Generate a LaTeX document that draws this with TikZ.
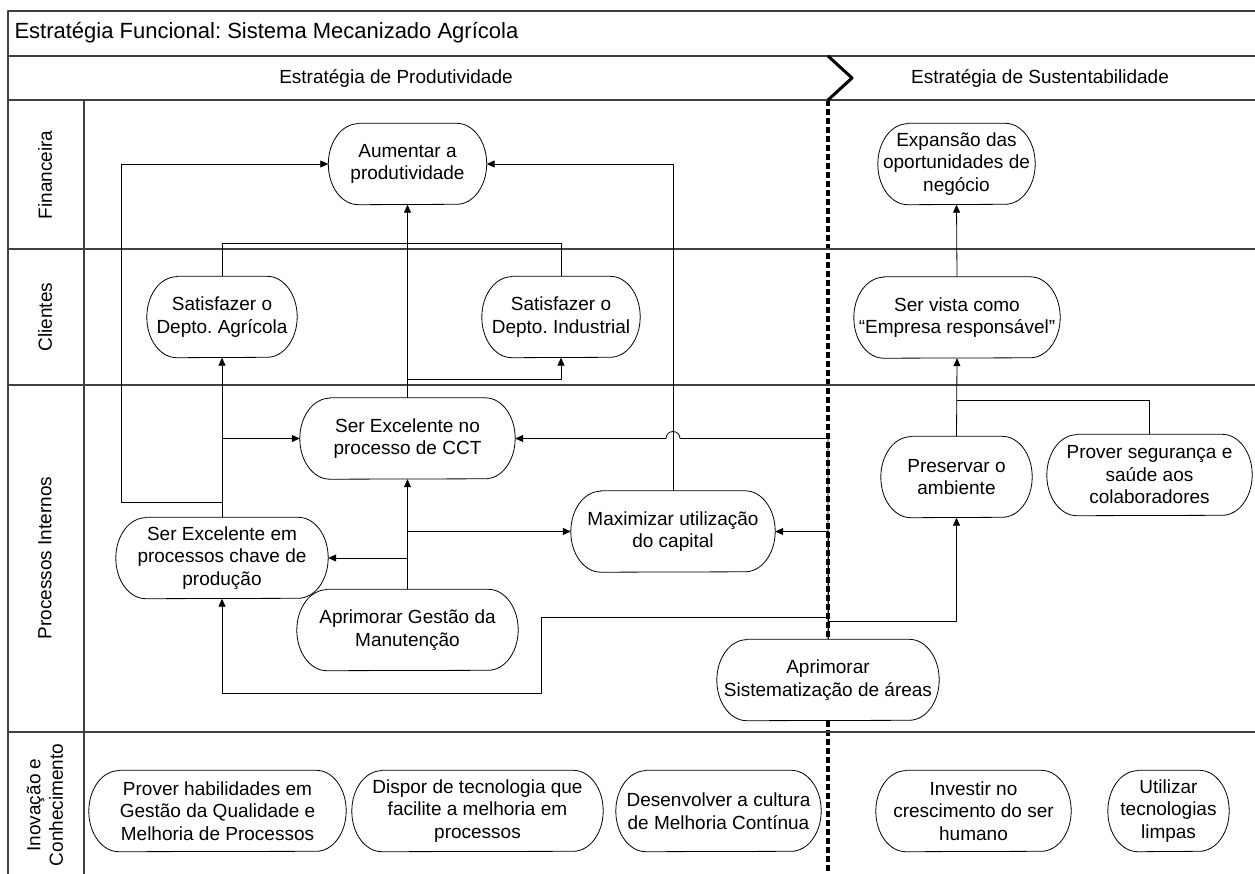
\documentclass[tikz,border=0pt]{standalone}
\usepackage{fontspec}
\setmainfont{Liberation Sans}
\usetikzlibrary{arrows.meta,calc}
\pgfdeclarelayer{background}
\pgfsetlayers{background,main}
\frenchspacing

\tikzset{
  goal/.style={rectangle, align=center, inner sep=0pt, minimum height=81pt},
  goalline/.style={draw, line width=0.8pt, fill=white},
  lane/.style={draw=black!75, line width=1.3pt},
  divider/.style={line width=3.2pt, dash pattern=on 6pt off 3pt},
  link/.style={->, line width=0.8pt},
}

\begin{document}
\begin{tikzpicture}[x=1pt, y=-1pt, >={Triangle[length=8pt,width=7pt]}, line join=round,
    font=\fontsize{19}{22.5}\selectfont]
  \useasboundingbox (0,0) rectangle (1255,874);
  % frame and lanes
  \draw[lane] (1255,11) -- (8,11) -- (8,874);
  \draw[lane] (8,56) -- (1255,56);
  \draw[lane] (8,100) -- (1255,100);
  \draw[lane] (84,100) -- (84,874);
  \foreach \y in {249,385,732} \draw[lane] (8,\y) -- (1255,\y);
  \draw[line width=3pt] (828,56) -- (852,78) -- (828,100);

  \node[anchor=west, font=\fontsize{22}{26}\selectfont] (title) at (11,33) {Estratégia Funcional: Sistema Mecanizado Agrícola};
  \node (prod) at (396,78) {Estratégia de Produtividade};
  \node (sust) at (1040,78) {Estratégia de Sustentabilidade};

  \node[rotate=90] (fin) at (45,175) {Financeira};
  \node[rotate=90] (cli) at (45,317) {Clientes};
  \node[rotate=90] (proc) at (45,558) {Processos Internos};
  \node[rotate=90, align=center] (inov) at (45,805) {Inovação e\\Conhecimento};

  % objetivos
  \node[goal, minimum width=158pt] (aum) at (407.5,164) {Aumentar a\\produtividade};
  \node[goal, minimum width=150pt] (sagr) at (222,317) {Satisfazer o\\Depto. Agrícola};
  \node[goal, minimum width=158pt] (sind) at (561,317) {Satisfazer o\\Depto. Industrial};
  \node[goal, minimum width=157pt] (exp) at (956.5,164) {Expansão das\\oportunidades de\\negócio};
  \node[goal, minimum width=206pt] (vista) at (957,317.5) {Ser vista como\\“Empresa responsável”};
  \node[goal, minimum width=215pt] (cct) at (407.5,438.5) {Ser Excelente no\\processo de CCT};
  \node[goal, minimum width=212pt] (chave) at (222,558) {Ser Excelente em\\processos chave de\\produção};
  \node[goal, minimum width=221pt] (manut) at (407.5,630) {Aprimorar Gestão da\\Manutenção};
  \node[goal, minimum width=204pt] (capital) at (673,531.5) {Maximizar utilização\\do capital};
  \node[goal, minimum width=151pt] (ambiente) at (956.5,477) {Preservar o\\ambiente};
  \node[goal, minimum width=205pt] (seguranca) at (1149.5,475) {Prover segurança e\\saúde aos\\colaboradores};
  \node[goal, minimum width=222pt] (sistem) at (828,680) {Aprimorar\\Sistematização de áreas};
  \node[goal, minimum width=257pt] (hab) at (217.5,811) {Prover habilidades em\\Gestão da Qualidade e\\Melhoria de Processos};
  \node[goal, minimum width=251pt] (tec) at (477.5,811) {Dispor de tecnologia que\\facilite a melhoria em\\processos};
  \node[goal, minimum width=205pt] (cult) at (718.5,811) {Desenvolver a cultura\\de Melhoria Contínua};
  \node[goal, minimum width=195pt] (invest) at (973.5,811) {Investir no\\crescimento do ser\\humano};
  \node[goal, minimum width=121pt] (limpas) at (1168.5,811) {Utilizar\\tecnologias\\limpas};

  % contornos
  \begin{pgfonlayer}{background}
    \draw[divider] (828,100) -- (828,874);
    \foreach \n in {aum,sagr,sind,exp,vista,cct,chave,manut,capital,ambiente,seguranca,sistem,hab,tec,cult,invest,limpas}
      \draw[goalline] ($(\n.north west)+(30,0)$) -- ($(\n.north east)+(-30,0)$)
        arc[start angle=-90, end angle=90, x radius=30, y radius=40.5]
        -- ($(\n.south west)+(30,0)$)
        arc[start angle=90, end angle=270, x radius=30, y radius=40.5] -- cycle;
  \end{pgfonlayer}

  % ligacoes
  \coordinate (ct) at (407.5,243);
  \coordinate (kl) at (121,502);
  \coordinate (sl) at (541,617);
  \coordinate (sb) at (541,693);
  \coordinate (sj) at (956.5,400);
  \draw (sagr.north) |- (ct);
  \draw (sind.north) |- (ct);
  \draw[link] (cct.north) -- (aum.south);
  \draw[link] (cct.north) ++(0,-18) -| (sind.south);
  \draw[link] (chave.north) -- (sagr.south);
  \draw[link] (chave.north |- cct.west) -- (cct.west);
  \draw[link] (chave.north |- kl) -- (kl) |- (aum.west);
  \draw[link] (manut.north) -- (cct.south);
  \draw[link] (manut.north |- chave.east) -- (chave.east);
  \draw[link] (manut.north |- capital.west) -- (capital.west);
  \draw[link] (capital.north) |- (aum.east);
  \draw[link] (sistem.north) -- (sistem.north |- capital.east) -- (capital.east);
  \draw[link] (sistem.north) -- (sistem.north |- cct.east) -- ($(capital.north |- cct.east)+(7,0)$)
    arc[start angle=0, end angle=-180, radius=7] -- (cct.east);
  \draw[link] (sistem.north |- sl) -- (sl) -- (sb) -| (chave.south);
  \draw[link] (sistem.north) ++(0,-18) -| (ambiente.south);
  \draw (seguranca.north) |- (sj);
  \draw[link] (ambiente.north) -- (vista.south);
  \draw[link] (vista.north) -- (exp.south);
\end{tikzpicture}
\end{document}
